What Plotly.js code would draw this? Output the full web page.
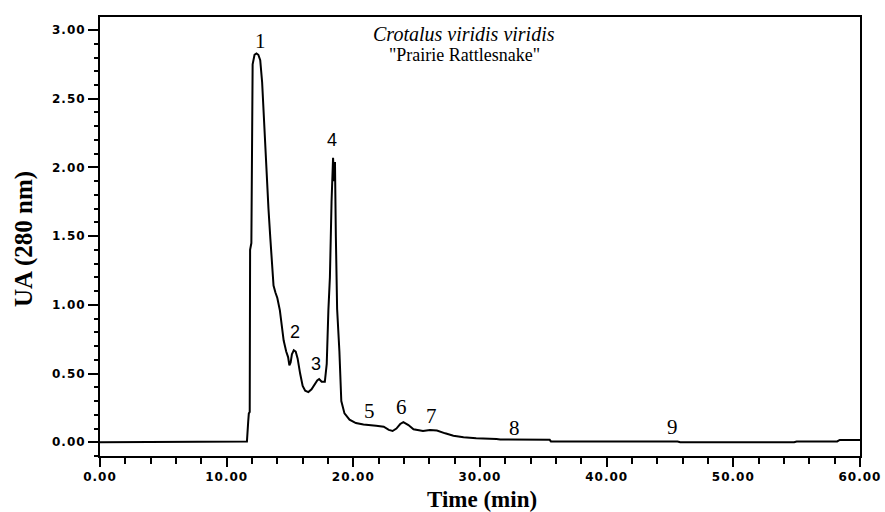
<!DOCTYPE html>
<html>
<head>
<meta charset="utf-8">
<script src="https://cdn.plot.ly/plotly-3.0.1.min.js"></script>
<style>
  html, body { margin: 0; padding: 0; background: #fff; }
  #chart { width: 885px; height: 512px; }
  .xtick text, .ytick text { letter-spacing: 1px; }
</style>
</head>
<body>
<div id="chart"></div>
<script>
// Elution time (min)
const timeMin = [
  0, 11.5, 11.6, 11.7, 11.75, 11.82, 11.85, 11.95, 12.0, 12.05, 12.2, 12.35, 12.5, 12.65,
  12.8, 12.9, 13.05, 13.2, 13.3, 13.45, 13.6, 13.7, 13.85, 14.0, 14.2, 14.35, 14.5, 14.7,
  14.85, 14.95, 15.05, 15.15, 15.3, 15.45, 15.6, 15.8, 16.0, 16.2, 16.45, 16.7, 16.95,
  17.15, 17.3, 17.5, 17.75, 17.9, 18.03, 18.15, 18.28, 18.4, 18.48, 18.55, 18.62, 18.72,
  18.9, 19.05, 19.3, 19.7, 20.2, 20.8, 21.8, 22.4, 22.8, 23.1, 23.4, 23.7, 23.95, 24.35,
  24.75, 25.1, 25.5, 26.05, 26.6, 27.25, 27.9, 28.7, 29.7, 31.3, 31.6, 35.5, 35.6, 45.6,
  45.8, 54.8, 55.0, 58.2, 58.4, 60
];
// Absorbance at 280 nm
const absorbance = [
  0, 0, 0.005, 0.15, 0.21, 0.22, 1.40, 1.45, 2.60, 2.75, 2.82, 2.83, 2.82, 2.78,
  2.62, 2.42, 2.15, 1.90, 1.70, 1.48, 1.28, 1.14, 1.09, 1.05, 0.96, 0.85, 0.74, 0.66,
  0.62, 0.56, 0.58, 0.64, 0.67, 0.66, 0.61, 0.50, 0.41, 0.375, 0.365, 0.385, 0.42,
  0.45, 0.46, 0.44, 0.44, 0.57, 0.96, 1.20, 1.75, 2.07, 1.90, 2.04, 1.50, 0.97,
  0.66, 0.30, 0.21, 0.165, 0.14, 0.13, 0.12, 0.113, 0.09, 0.082, 0.10, 0.133, 0.147, 0.125,
  0.094, 0.09, 0.082, 0.09, 0.085, 0.065, 0.048, 0.036, 0.029, 0.024, 0.02, 0.018, 0.006, 0.005,
  0.0, 0.0, 0.006, 0.006, 0.017, 0.017
];
// Peak labels
const peakNames = ["1", "2", "3", "4", "5", "6", "7", "8", "9"];
const peakTimes = [12.70, 15.38, 17.04, 18.34, 21.30, 23.79, 26.17, 32.74, 45.17];
const peakHeights = [2.917, 0.806, 0.570, 2.200, 0.228, 0.260, 0.189, 0.102, 0.108];

const sansPeaks = ["2", "3", "4"];

const peakAnnotations = peakNames.map((name, i) => ({
  x: peakTimes[i], y: peakHeights[i], xref: 'x', yref: 'y',
  text: name, showarrow: false, xanchor: 'center', yanchor: 'middle',
  font: sansPeaks.includes(name)
    ? { family: 'Liberation Sans, Arial, sans-serif', size: 18, color: '#000' }
    : { family: 'Liberation Serif, Times New Roman, serif', size: 21, color: '#000' }
}));

const tickFont = { family: 'DejaVu Sans, Verdana, sans-serif', size: 12, color: '#000', weight: 'bold' };

const layout = {
  width: 885, height: 512,
  margin: { l: 100, r: 25, t: 17, b: 56, pad: 0 },
  paper_bgcolor: '#fff', plot_bgcolor: '#fff',
  showlegend: false,
  xaxis: {
    range: [0, 60], tick0: 0, dtick: 10, tickformat: '.2f',
    ticks: 'outside', ticklen: 9, tickwidth: 2, tickcolor: '#000',
    showline: true, linewidth: 2, linecolor: '#000', mirror: true,
    showgrid: false, zeroline: false, tickfont: tickFont,
    minor: { dtick: 2, tick0: 0, ticks: 'outside', ticklen: 6, tickwidth: 2, tickcolor: '#000', showgrid: false }
  },
  yaxis: {
    range: [-0.1, 3.095], tick0: 0, dtick: 0.5, tickformat: '.2f',
    ticks: 'outside', ticklen: 10, tickwidth: 2, tickcolor: '#000',
    showline: true, linewidth: 2, linecolor: '#000', mirror: true,
    showgrid: false, zeroline: false, tickfont: tickFont,
    minor: { dtick: 0.1, tick0: 0, ticks: 'outside', ticklen: 4, tickwidth: 2, tickcolor: '#000', showgrid: false }
  },
  annotations: peakAnnotations.concat([
    { xref: 'paper', yref: 'paper', x: 0.479, y: 0.9613, xanchor: 'center', yanchor: 'middle',
      text: '<i>Crotalus viridis viridis</i>', showarrow: false,
      font: { family: 'Liberation Serif, Times New Roman, serif', size: 20, color: '#000' } },
    { xref: 'paper', yref: 'paper', x: 0.479, y: 0.9134, xanchor: 'center', yanchor: 'middle',
      text: '"Prairie Rattlesnake"', showarrow: false,
      font: { family: 'Liberation Serif, Times New Roman, serif', size: 18, color: '#000' } },
    { xref: 'paper', yref: 'paper', x: 0.503, y: -0.1, xanchor: 'center', yanchor: 'middle',
      text: '<b>Time (min)</b>', showarrow: false,
      font: { family: 'Liberation Serif, Times New Roman, serif', size: 23, color: '#000' } },
    { xref: 'paper', yref: 'paper', x: -0.101, y: 0.495, xanchor: 'center', yanchor: 'middle',
      text: '<b>UA (280 nm)</b>', showarrow: false, textangle: -90,
      font: { family: 'Liberation Serif, Times New Roman, serif', size: 25, color: '#000' } }
  ])
};

const trace = {
  x: timeMin, y: absorbance, type: 'scatter', mode: 'lines',
  line: { color: '#000', width: 2 }, hoverinfo: 'skip'
};

Plotly.newPlot('chart', [trace], layout, { displayModeBar: false, staticPlot: true });
</script>
</body>
</html>
